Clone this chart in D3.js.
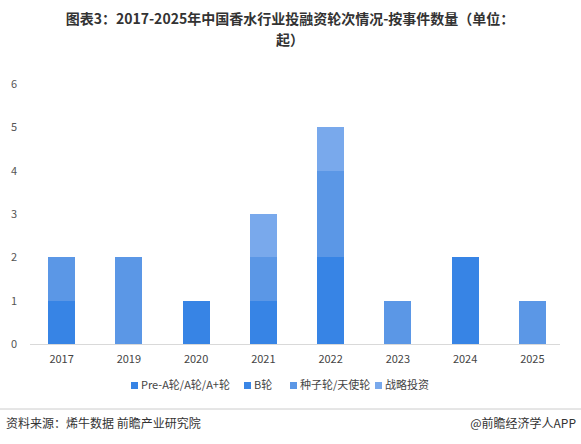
<!DOCTYPE html>
<html><head><meta charset="utf-8">
<script src="https://cdn.jsdelivr.net/npm/d3@7"></script>
<style>body{margin:0;background:#fff;font-family:"Noto Sans CJK SC","Noto Sans",sans-serif}</style>
</head><body><svg id="c" width="581" height="444"></svg>
<script>
const categories=["2017","2019","2020","2021","2022","2023","2024","2025"];
const seriesNames=["Pre-A轮/A轮/A+轮","B轮","种子轮/天使轮","战略投资"];
const preA=[1,0,1,1,2,0,2,0];
const bRound=[0,0,0,0,0,0,0,0];
const seed=[1,2,0,1,2,1,0,1];
const strategic=[0,0,0,1,1,0,0,0];
const yTicks=[0,1,2,3,4,5,6];
const colors=["#3784e5","#3a86e6","#5b97e6","#79a9ec"];
const svg=d3.select("#c");
svg.append("text").attr("x",290).attr("y",24).attr("text-anchor","middle").attr("font-size",14).attr("font-weight","bold").attr("fill","#333").text("图表3：2017-2025年中国香水行业投融资轮次情况-按事件数量（单位：");
svg.append("text").attr("x",290).attr("y",45).attr("text-anchor","middle").attr("font-size",14).attr("font-weight","bold").attr("fill","#333").text("起）");
const x=d3.scaleBand().domain(categories).range([28,566]).paddingInner(0.6).paddingOuter(0.3);
const y=d3.scaleLinear().domain([0,6]).range([344,84]);
yTicks.forEach(t=>svg.append("text").attr("x",14).attr("y",y(t)+4).attr("text-anchor","middle").attr("font-size",11).attr("fill","#555").text(t));
svg.append("line").attr("x1",30).attr("x2",560).attr("y1",y(0)+0.5).attr("y2",y(0)+0.5).attr("stroke","#d9d9d9");
const data=categories.map((c,i)=>({c,s0:preA[i],s1:bRound[i],s2:seed[i],s3:strategic[i]}));
const stack=d3.stack().keys(["s0","s1","s2","s3"])(data);
stack.forEach((layer,k)=>{
  svg.append("g").selectAll("rect").data(layer).join("rect")
   .attr("x",d=>x(d.data.c)).attr("width",x.bandwidth())
   .attr("y",d=>y(d[1])).attr("height",d=>y(d[0])-y(d[1])).attr("fill",colors[k]).attr("shape-rendering","crispEdges");
});
categories.forEach(c=>svg.append("text").attr("x",x(c)+x.bandwidth()/2).attr("y",363).attr("text-anchor","middle").attr("font-size",11).attr("fill","#444").text(c));
const lx=[131,244,290,375];
seriesNames.forEach((n,i)=>{
  svg.append("rect").attr("x",lx[i]).attr("y",382).attr("width",7).attr("height",7).attr("fill",colors[i]);
  svg.append("text").attr("x",lx[i]+10).attr("y",389).attr("font-size",11).attr("fill","#444").text(n);
});
svg.append("line").attr("x1",0).attr("x2",581).attr("y1",409).attr("y2",409).attr("stroke","#ccc");
svg.append("text").attr("x",6).attr("y",428).attr("font-size",12).attr("fill","#333").text("资料来源：烯牛数据  前瞻产业研究院");
svg.append("text").attr("x",576).attr("y",428).attr("text-anchor","end").attr("font-size",12).attr("fill","#333").text("@前瞻经济学人APP");
</script></body></html>
